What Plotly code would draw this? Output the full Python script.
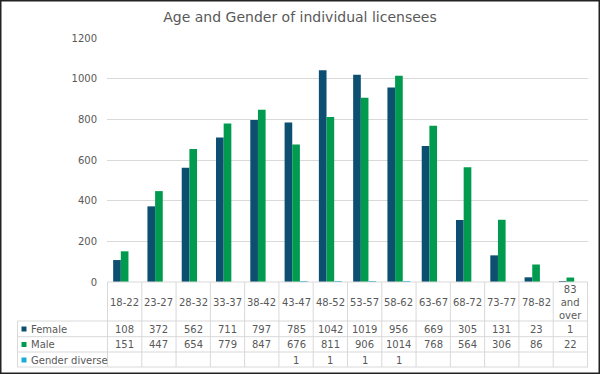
import plotly.graph_objects as go

categories = ["18-22", "23-27", "28-32", "33-37", "38-42", "43-47", "48-52",
              "53-57", "58-62", "63-67", "68-72", "73-77", "78-82", "83 and over"]
header_labels = ["18-22", "23-27", "28-32", "33-37", "38-42", "43-47", "48-52",
                 "53-57", "58-62", "63-67", "68-72", "73-77", "78-82", "83<br>and<br>over"]
female = [108, 372, 562, 711, 797, 785, 1042, 1019, 956, 669, 305, 131, 23, 1]
male = [151, 447, 654, 779, 847, 676, 811, 906, 1014, 768, 564, 306, 86, 22]
diverse = [None, None, None, None, None, 1, 1, 1, 1, None, None, None, None, None]
series_names = ["Female", "Male", "Gender diverse"]
y_ticks = [0, 200, 400, 600, 800, 1000, 1200]

colors = ["#0D4F70", "#009B4E", "#1AABD9"]
TXT = "#595959"
GRID = "#d9d9d9"
FONT = "DejaVu Sans"

W, H = 600, 374
L, R, T, B = 107, 12, 38, 92
PW, PH = W - L - R, H - T - B


def px_x(px):
    return (px - L) / PW


def px_y(py):
    return (H - B - py) / PH


fig = go.Figure()
for name, vals, c in zip(series_names, [female, male, diverse], colors):
    fig.add_trace(go.Bar(x=categories, y=vals, name=name, marker_color=c,
                         marker_line_width=0))

shapes = []
annotations = []
n = len(categories)
line = dict(color=GRID, width=1)

# table horizontal lines
row_bounds = [282, 321, 336.7, 352, 367]
shapes.append(dict(type="line", xref="x", yref="paper", x0=-0.5, x1=n - 0.5,
                   y0=px_y(row_bounds[0]), y1=px_y(row_bounds[0]), line=line))
for rb in row_bounds[1:]:
    shapes.append(dict(type="line", xref="paper", yref="paper", x0=px_x(17.5), x1=1,
                       y0=px_y(rb), y1=px_y(rb), line=line))
# vertical lines
for i in range(n + 1):
    shapes.append(dict(type="line", xref="x", yref="paper", x0=i - 0.5, x1=i - 0.5,
                       y0=px_y(282), y1=px_y(367), line=line))
shapes.append(dict(type="line", xref="paper", yref="paper", x0=px_x(17.5), x1=px_x(17.5),
                   y0=px_y(321), y1=px_y(367), line=line))

# header labels
for cat, lab in zip(categories, header_labels):
    annotations.append(dict(x=cat, xref="x", yref="paper", y=px_y(302), text=lab,
                            showarrow=False, font=dict(family=FONT, size=10, color=TXT),
                            xanchor="center", yanchor="middle"))

# data rows
row_centers = [329, 344.5, 360]
for r, (name, vals, c) in enumerate(zip(series_names, [female, male, diverse], colors)):
    yc = row_centers[r]
    shapes.append(dict(type="rect", xref="paper", yref="paper",
                       x0=px_x(21.5), x1=px_x(26.5), y0=px_y(yc - 2.5), y1=px_y(yc + 2.5),
                       fillcolor=c, line=dict(width=0)))
    annotations.append(dict(x=px_x(28.5), xref="paper", yref="paper", y=px_y(yc), text=name,
                            showarrow=False, font=dict(family=FONT, size=10, color=TXT),
                            xanchor="left", yanchor="middle"))
    for cat, v in zip(categories, vals):
        if v is None:
            continue
        annotations.append(dict(x=cat, xref="x", yref="paper", y=px_y(yc), text=str(v),
                                showarrow=False, font=dict(family=FONT, size=10, color=TXT),
                                xanchor="center", yanchor="middle"))

# outer border
shapes.append(dict(type="rect", xref="paper", yref="paper",
                   x0=px_x(0.75), x1=px_x(599.25), y0=px_y(373.25), y1=px_y(0.75),
                   line=dict(color="#222222", width=1.5), fillcolor="rgba(0,0,0,0)"))

fig.update_layout(
    width=W, height=H,
    margin=dict(l=L, r=R, t=T, b=B),
    paper_bgcolor="white", plot_bgcolor="white",
    barmode="group", bargap=0.33, bargroupgap=0,
    showlegend=False,
    title=dict(text="Age and Gender of individual licensees", x=0.5, xref="container",
               y=1 - 17 / H, yref="container", xanchor="center", yanchor="middle",
               font=dict(family=FONT, size=14, color=TXT)),
    font=dict(family=FONT, size=10, color=TXT),
    xaxis=dict(type="category", showticklabels=False, showgrid=False, showline=False,
               zeroline=False, ticks=""),
    yaxis=dict(range=[0, 1200], tickvals=y_ticks, showgrid=True, gridcolor=GRID,
               gridwidth=1, zeroline=False, showline=False, ticks="",
               tickfont=dict(family=FONT, size=10, color=TXT), ticklabelstandoff=9),
    shapes=shapes,
    annotations=annotations,
)

fig.write_html("out.html", config={"displayModeBar": False},
               post_script="document.body.style.margin='0';document.body.style.overflow='hidden';")
